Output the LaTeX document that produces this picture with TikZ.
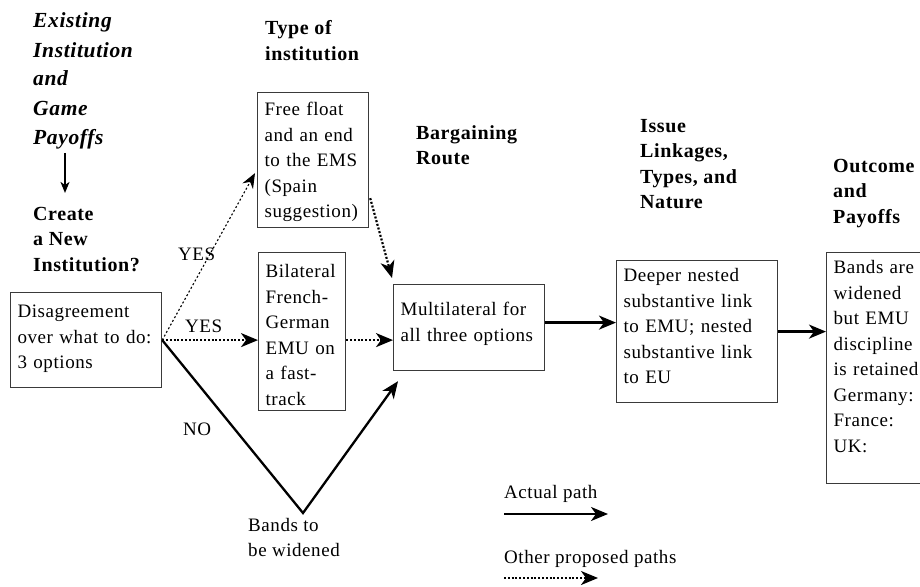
\documentclass[tikz,border=0pt]{standalone}
\usepackage{fontspec}
\setmainfont{Liberation Serif}[LetterSpace=3]
\usetikzlibrary{arrows.meta,calc}

% stacked lines, baseline on the first row
\newcommand\rows[1]{\begin{tabular}[t]{@{}l@{}}#1\end{tabular}}

\definecolor{boxgray}{HTML}{3A3A3A}

\tikzset{
  body/.style={font=\fontsize{19}{25.5}\selectfont},
  head/.style={font=\bfseries\fontsize{20}{25.5}\selectfont, anchor=base west, inner sep=0pt},
  plain/.style={body, anchor=base west, inner sep=0pt},
  card/.style n args={3}{body, draw=boxgray, line width=1.2pt, anchor=north west,
    inner xsep=7pt, inner ysep=0pt, align=left,
    text width=#1, text height=#2, text depth=#3},
  bighead/.style={-{Stealth[length=17pt,width=14pt,inset=5pt]}},
  actual/.style={bighead, line width=2.3pt},
  proposed/.style={bighead, line width=2.2pt, dash pattern=on 2pt off 1.8pt},
  proposedthin/.style={-{Stealth[length=15pt,width=12pt,inset=5pt]}, line width=1.1pt, dash pattern=on 2pt off 2.2pt},
  thinarrow/.style={-{Stealth[length=11pt,width=9pt,inset=3pt]}, line width=1.2pt},
}

\begin{document}
\begin{tikzpicture}[x=1pt,y=-1pt]
\useasboundingbox (0,0) rectangle (920,586);
\clip (0,0) rectangle (920,586);
\fill[white] (0,0) rectangle (920,586);

% column headings
\node[head, font=\bfseries\itshape\fontsize{21.5}{29}\selectfont] (exist) at (33,28)
  {\rows{Existing\\Institution\\and\\Game\\Payoffs}};
\node[head] (create) at (33,220) {\rows{Create\\a New\\Institution?}};
\node[head] (typeinst) at (265,35) {\rows{Type of\\institution}};
\node[head] (bargain) at (416,139) {\rows{Bargaining\\Route}};
\node[head] (issue) at (640,132) {\rows{Issue\\Linkages,\\Types, and\\Nature}};
\node[head] (outcome) at (833,172) {\rows{Outcome\\and\\Payoffs}};

\draw[thinarrow] ($(exist.south west)+(32,0)$) -- ($(create.north west)+(32,-9)$);

% boxes
\node[card={137pt}{25pt}{70pt}] (dis) at (10,292)
  {\rows{Disagreement\\over what to do:\\3 options}};
\node[card={97pt}{23pt}{112pt}] (ff) at (257,92)
  {\rows{Free float\\and an end\\to the EMS\\(Spain\\suggestion)}};
\node[card={73pt}{25pt}{133pt}] (bil) at (258,252)
  {\rows{Bilateral\\French-\\German\\EMU on\\a fast-\\track}};
\node[card={137pt}{31pt}{55pt}] (mul) at (393,284)
  {\rows{Multilateral for\\all three options}};
\node[card={147pt}{21pt}{121pt}] (deep) at (616,260)
  {\rows{Deeper nested\\substantive link\\to EMU; nested\\substantive link\\to EU}};
\node[card={96pt}{21pt}{210pt}] (out) at (826,252)
  {\rows{Bands are\\widened\\but EMU\\discipline\\is retained\\Germany:\\France:\\UK:}};

\node[plain] (bands) at (248,531) {\rows{Bands to\\be widened}};
\coordinate (dip) at (303,513);

% branch labels
\node[plain] (yesup) at (178,260) {YES};
\node[plain] (yesmid) at (185,332) {YES};
\node[plain] (no) at (183,435) {NO};

% connectors
\draw[proposedthin] (dis.east) -- ($(ff.west)+(-2,13)$);
\draw[proposed] (dis.east) -- (bil.west |- dis.east);
\draw[proposed] (bil.east |- dis.east) -- (mul.west |- dis.east);
\draw[proposed] ($(ff.south east)+(1,-30)$) -- ($(mul.north west)+(-1,-6)$);
\draw[actual] (dis.east) -- (dip) -- ($(mul.south west)+(5,10)$);
\draw[actual] ($(mul.east)+(0,-5)$) -- ($(deep.west)+(0,-9)$);
\draw[actual] (deep.east) -- (deep.east -| out.west);

% legend
\node[plain] (lgact) at (504,498) {Actual path};
\coordinate (la1) at ($(lgact.base west)+(0,16)$);
\coordinate (la2) at ($(la1)+(104,0)$);
\draw[actual] (la1) -- (la2);
\node[plain] (lgoth) at (504,563) {Other proposed paths};
\coordinate (lb1) at ($(lgoth.base west)+(0,15)$);
\coordinate (lb2) at ($(lb1)+(94,0)$);
\draw[proposed] (lb1) -- (lb2);
\end{tikzpicture}
\end{document}
